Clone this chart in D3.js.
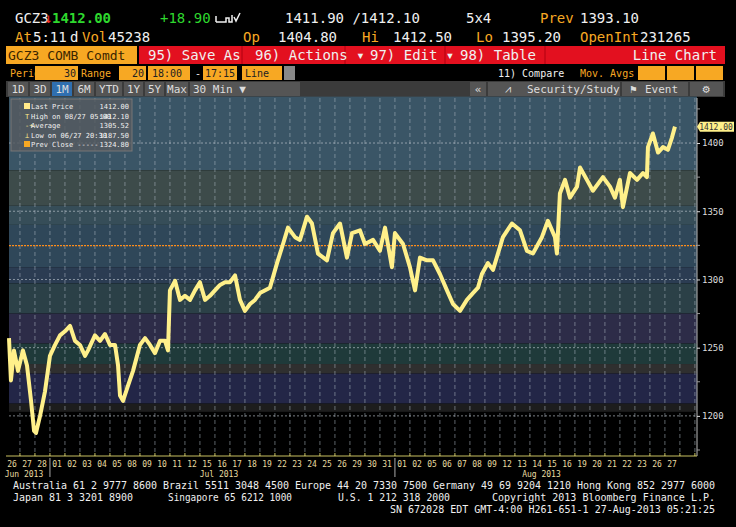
<!DOCTYPE html>
<html>
<head>
<meta charset="utf-8">
<script src="https://cdn.jsdelivr.net/npm/d3@7"></script>
<style>
  html, body { margin: 0; padding: 0; background: #000; }
  svg text { font-family: "DejaVu Sans Mono", monospace; }
</style>
</head>
<body>
<svg id="chart" width="736" height="527"></svg>
<script>
// price trace (30-min bars): t = trading-day position, p = price
const times = [0,.13,.33,.6,.93,1.2,1.47,1.67,1.8,2.07,2.4,2.73,3.07,3.4,3.73,4.07,4.4,4.73,5.07,5.27,5.73,6.07,6.4,6.73,7.07,7.27,7.4,7.6,7.93,8.27,8.73,9.07,9.4,9.73,10.07,10.4,10.6,10.73,11.07,11.4,11.73,12.07,12.4,12.73,13.07,13.4,13.73,14.07,14.4,14.73,15.07,15.4,15.73,16.07,16.4,16.73,17.4,17.87,18.27,18.6,19.07,19.4,19.87,20.2,20.6,21.2,21.6,22.07,22.53,22.87,23.4,23.73,24.27,24.73,25.07,25.53,25.73,26.27,26.73,27.07,27.4,27.87,28.27,28.73,29.2,29.6,30.07,30.53,30.93,31.27,31.53,31.93,32.27,32.93,33.53,34.07,34.53,34.93,35.53,35.93,36.4,36.53,36.73,37.07,37.4,37.87,38.07,38.53,38.93,39.6,40.07,40.4,40.73,40.93,41.4,41.87,42.27,42.53,42.6,42.93,43.27,43.6,43.93,44.2,44.4];
const prices = [1257,1226,1248,1233,1248,1237,1211,1189,1187.5,1200,1218,1244,1252,1259,1262,1266,1255,1252,1244,1248,1259,1255,1260,1252,1252,1237,1215,1211,1222,1233,1252,1257,1252,1246,1255,1255,1248,1292,1299,1285,1288,1285,1292,1298,1285,1288,1292,1296,1298,1298,1303,1285,1277,1282,1285,1290,1294,1312,1326,1338,1331,1329,1346,1341,1319,1314,1334,1341,1316,1334,1336,1326,1329,1321,1338,1309,1334,1326,1309,1292,1316,1314,1314,1304,1292,1282,1277,1285,1290,1294,1304,1312,1307,1331,1341,1336,1321,1319,1331,1343,1331,1319,1363,1373,1360,1368,1382,1373,1365,1375,1368,1360,1373,1353,1378,1373,1378,1375,1397,1407,1393,1397,1395,1404,1412];

const dayLabels = ['26','27','28','01','02','03','04','05','08','09','10','11','12','15','16','17','18','19','22','23','24','25','26','29','30','31','01','02','05','06','07','08','09','12','13','14','15','16','19','20','21','22','23','26','27'];
const monthLabels = [['Jun 2013', 1], ['Jul 2013', 14], ['Aug 2013', 35.5]];
const monthBreaks = [2.73, 25.73];
const yTicks = [1200, 1250, 1300, 1350, 1400];
const prevClose = 1324.8;
// price bands of the background shading: [from, to, colour]
const bands = [
  [1380, 1434, '#3a5566'], [1354, 1380, '#3d4b4a'], [1340, 1354, '#364d58'],
  [1309, 1340, '#2f4759'], [1297, 1309, '#2b3c52'], [1275, 1297, '#2b4047'],
  [1253, 1275, '#2d2c48'], [1238, 1253, '#1f3a3a'], [1231, 1238, '#2f2f2f'],
  [1209, 1231, '#232647'], [1203, 1209, '#1d1d1d']
];
const legendRows = [['Last Price', '1412.00'], ['High on 08/27 05:00', '1412.10'], ['Average', '1305.52'], ['Low on 06/27 20:30', '1187.50'], ['Prev Close -----', '1324.80']];

const svg = d3.select('#chart');
const ORANGE = '#f7a823', WHITE = '#f0f0f0', GREEN = '#2ed82e';

// ---- header rows
function txt(x, y, s, col, size, extra) {
  const t = svg.append('text').attr('x', x).attr('y', y).attr('fill', col)
    .style('font-size', (size || 14) + 'px').text(s);
  if (extra) extra(t);
  return t;
}
txt(15, 23, 'GCZ3', WHITE);
txt(44, 23, '↓', '#ff3030');
txt(52, 23, '1412.00', GREEN, 14, t => t.style('font-weight', 'bold'));
txt(160, 23, '+18.90', GREEN);
svg.append('path').attr('d', 'M216,22 v-6 M216,22 h10 v-4 h3 v4 h3 v-7 M234,17 l2,4 l4,-8').attr('stroke', WHITE).attr('fill', 'none').attr('stroke-width', 1.5);
txt(285, 23, '1411.90 /1412.10', WHITE);
txt(466, 23, '5x4', WHITE);
txt(540, 23, 'Prev', ORANGE);
txt(580, 23, '1393.10', WHITE);
[[15, 'At', ORANGE], [33, '5:11', WHITE], [70, 'd', WHITE], [82, 'Vol', ORANGE], [108, '45238', WHITE],
 [243, 'Op', ORANGE], [278, '1404.80', WHITE], [362, 'Hi', ORANGE], [393, '1412.50', WHITE],
 [476, 'Lo', ORANGE], [502, '1395.20', WHITE], [580, 'OpenInt', ORANGE], [640, '231265', WHITE]]
  .forEach(d => txt(d[0], 42, d[1], d[2]));

// red command bar
svg.append('rect').attr('x', 139).attr('y', 46).attr('width', 586).attr('height', 18).attr('fill', '#e3101f');
svg.append('rect').attr('x', 6).attr('y', 46).attr('width', 131).attr('height', 18).attr('fill', ORANGE);
[242, 345, 445, 545].forEach(x => svg.append('line').attr('x1', x).attr('x2', x).attr('y1', 46).attr('y2', 64).attr('stroke', '#b00010'));
txt(8, 60, 'GCZ3 COMB Comdt', '#3a2500', 13);
txt(148, 60, '95) Save As', WHITE, 14);
txt(255, 60, '96) Actions ▾', WHITE, 14);
txt(370, 60, '97) Edit  ▾', WHITE, 14);
txt(460, 60, '98) Table', WHITE, 14);
txt(717, 60, 'Line Chart', WHITE, 14, t => t.attr('text-anchor', 'end'));

// period row
[[35, 78], [119, 146], [148, 190], [203, 237], [242, 282], [638, 665], [667, 694], [696, 723]]
  .forEach(b => svg.append('rect').attr('x', b[0]).attr('y', 66).attr('width', b[1] - b[0]).attr('height', 14).attr('fill', ORANGE));
svg.append('rect').attr('x', 284).attr('y', 66).attr('width', 11).attr('height', 14).attr('fill', '#888');
txt(10, 77, 'Period', ORANGE, 10);
txt(76, 77, '30', '#222', 10, t => t.attr('text-anchor', 'end'));
txt(81, 77, 'Range', ORANGE, 10);
txt(144, 77, '20', '#222', 10, t => t.attr('text-anchor', 'end'));
txt(152, 77, '18:00', '#222', 10);
txt(195, 77, '-', WHITE, 10);
txt(205, 77, '17:15', '#222', 10);
txt(245, 77, 'Line', '#222', 10);
txt(498, 77, '11) Compare', WHITE, 10);
txt(580, 77, 'Mov. Avgs', ORANGE, 10);

// range buttons row
svg.append('rect').attr('x', 6).attr('y', 81).attr('width', 719).attr('height', 16).attr('fill', '#3b3b3b');
const btns = [['1D', 8, 28], ['3D', 30, 50], ['1M', 52, 72], ['6M', 74, 94], ['YTD', 96, 122], ['1Y', 124, 143], ['5Y', 145, 164], ['Max', 166, 188], ['30 Min ▼', 190, 300]];
btns.forEach(b => {
  svg.append('rect').attr('x', b[1]).attr('y', 82).attr('width', b[2] - b[1]).attr('height', 14).attr('fill', b[0] === '1M' ? '#2f6fb0' : '#555');
  txt(b[0].length > 3 ? b[1] + 3 : (b[1] + b[2]) / 2, 93, b[0], '#ddd', 11, t => { if (b[0].length <= 3) t.attr('text-anchor', 'middle'); });
});
svg.append('rect').attr('x', 470).attr('y', 82).attr('width', 16).attr('height', 14).attr('fill', '#555');
txt(478, 93, '«', '#ddd', 11, t => t.attr('text-anchor', 'middle'));
[[488, 620], [622, 688], [690, 723]].forEach(b => svg.append('rect').attr('x', b[0]).attr('y', 82).attr('width', b[1] - b[0]).attr('height', 14).attr('fill', '#555'));
txt(505, 93, '⩘', '#ddd', 11);
txt(527, 93, 'Security/Study', '#ddd', 11);
txt(630, 93, '⚑', '#ddd', 11);
txt(645, 93, 'Event', '#ddd', 11);
txt(706, 93, '⚙', '#ddd', 12, t => t.attr('text-anchor', 'middle'));

// ---- chart area
const pL = 9, pR = 697, pT = 98, pB = 456;
const x = d3.scaleLinear().domain([0, 45.87]).range([pL, pR]);
const y = d3.scaleLinear().domain([1170.6, 1433]).range([pB, pT]);

bands.forEach(b => svg.append('rect').attr('x', pL).attr('width', pR - pL)
  .attr('y', y(b[1])).attr('height', y(b[0]) - y(b[1])).attr('fill', b[2]));

// grid
const g = svg.append('g');
d3.range(0, 46).forEach(i => g.append('line').attr('x1', x(i + 0.73)).attr('x2', x(i + 0.73))
  .attr('y1', pT).attr('y2', pB).attr('stroke', '#aab4c0').attr('stroke-opacity', 0.55).attr('stroke-dasharray', '4,3'));
yTicks.forEach(v => g.append('line').attr('x1', pL).attr('x2', pR).attr('y1', y(v)).attr('y2', y(v))
  .attr('stroke', '#c8d0d8').attr('stroke-opacity', 0.6).attr('stroke-dasharray', '2,2'));
g.append('line').attr('x1', pL).attr('x2', pR).attr('y1', y(prevClose)).attr('y2', y(prevClose))
  .attr('stroke', '#ff8c1a').attr('stroke-dasharray', '2,1').attr('stroke-width', 1.2);

// price line
const line = d3.line().x((d, i) => x(times[i])).y(d => y(d));
svg.append('path').datum(prices).attr('fill', 'none').attr('stroke', '#fff08a')
  .attr('stroke-width', 4).attr('stroke-linejoin', 'round').attr('d', line);

// legend
const lg = svg.append('g');
lg.append('rect').attr('x', 11).attr('y', 99).attr('width', 121).attr('height', 52).attr('fill', '#555a60').attr('fill-opacity', 0.85).attr('stroke', '#777');
legendRows.forEach((r, i) => {
  const yy = 109 + i * 9.5;
  if (i === 0) lg.append('rect').attr('x', 24).attr('y', yy - 6).attr('width', 6).attr('height', 6).attr('fill', '#ffe98a');
  if (i === 4) lg.append('rect').attr('x', 24).attr('y', yy - 6).attr('width', 6).attr('height', 6).attr('fill', ORANGE);
  if (i > 0 && i < 4) lg.append('text').attr('x', 25).attr('y', yy).attr('fill', '#ffe98a').style('font-size', '7px').text(i === 2 ? '-+-' : i === 1 ? 'T' : '⊥');
  lg.append('text').attr('x', 31).attr('y', yy).attr('fill', WHITE).style('font-size', '7px').text(r[0]);
  lg.append('text').attr('x', 129).attr('y', yy).attr('fill', WHITE).style('font-size', '7px').attr('text-anchor', 'end').text(r[1]);
});

// right axis
svg.append('line').attr('x1', pR).attr('x2', pR).attr('y1', pT).attr('y2', pB).attr('stroke', '#bbb');
const ax = svg.append('g').attr('transform', `translate(${pR},0)`)
  .call(d3.axisRight(y).tickValues(yTicks).tickSize(3).tickFormat(d3.format('d')));
ax.select('.domain').remove();
ax.selectAll('line').attr('stroke', '#ddd');
ax.selectAll('text').attr('fill', '#ddd').style('font-size', '9px').attr('x', 5);
d3.range(1175, 1430, 25).filter(v => v % 50).forEach(v => svg.append('line').attr('x1', pR).attr('x2', pR + 3)
  .attr('y1', y(v)).attr('y2', y(v)).attr('stroke', '#999'));
const ly = y(prices[prices.length - 1]);
svg.append('path').attr('d', `M${pR},${ly} l3,-5 h34 v10 h-34 z`).attr('fill', '#fff08a');
svg.append('text').attr('x', pR + 19).attr('y', ly + 3).attr('text-anchor', 'middle').attr('fill', '#333').style('font-size', '8px').text('1412.00');

// bottom axis
svg.append('line').attr('x1', 6).attr('x2', pR).attr('y1', pB).attr('y2', pB).attr('stroke', '#c8c060');
d3.range(0, 46).forEach(i => svg.append('line').attr('x1', x(i + 0.73)).attr('x2', x(i + 0.73))
  .attr('y1', pB - 3).attr('y2', pB).attr('stroke', '#c8c060'));
dayLabels.forEach((d, i) => svg.append('text').attr('x', x(i + 0.2)).attr('y', 467).attr('text-anchor', 'middle')
  .attr('fill', '#e8dca0').style('font-size', '8px').text(d));
monthBreaks.forEach(t => svg.append('line').attr('x1', x(t)).attr('x2', x(t)).attr('y1', 458).attr('y2', 477).attr('stroke', '#aaa'));
monthLabels.forEach(m => svg.append('text').attr('x', x(m[1])).attr('y', 477).attr('text-anchor', 'middle')
  .attr('fill', '#e8dca0').style('font-size', '8px').text(m[0]));

// footer
const foot = [
  [13, 489, 702, 'Australia 61 2 9777 8600 Brazil 5511 3048 4500 Europe 44 20 7330 7500 Germany 49 69 9204 1210 Hong Kong 852 2977 6000'],
  [13, 501, 120, 'Japan 81 3 3201 8900'],
  [168, 501, 124, 'Singapore 65 6212 1000'],
  [338, 501, 112, 'U.S. 1 212 318 2000'],
  [492, 501, 223, 'Copyright 2013 Bloomberg Finance L.P.'],
  [390, 513, 325, 'SN 672028 EDT  GMT-4:00 H261-651-1 27-Aug-2013 05:21:25']
];
foot.forEach(f => svg.append('text').attr('x', f[0]).attr('y', f[1]).attr('fill', WHITE).style('font-size', '11px')
  .attr('textLength', f[2]).attr('lengthAdjust', 'spacingAndGlyphs').text(f[3]));
</script>
</body>
</html>
